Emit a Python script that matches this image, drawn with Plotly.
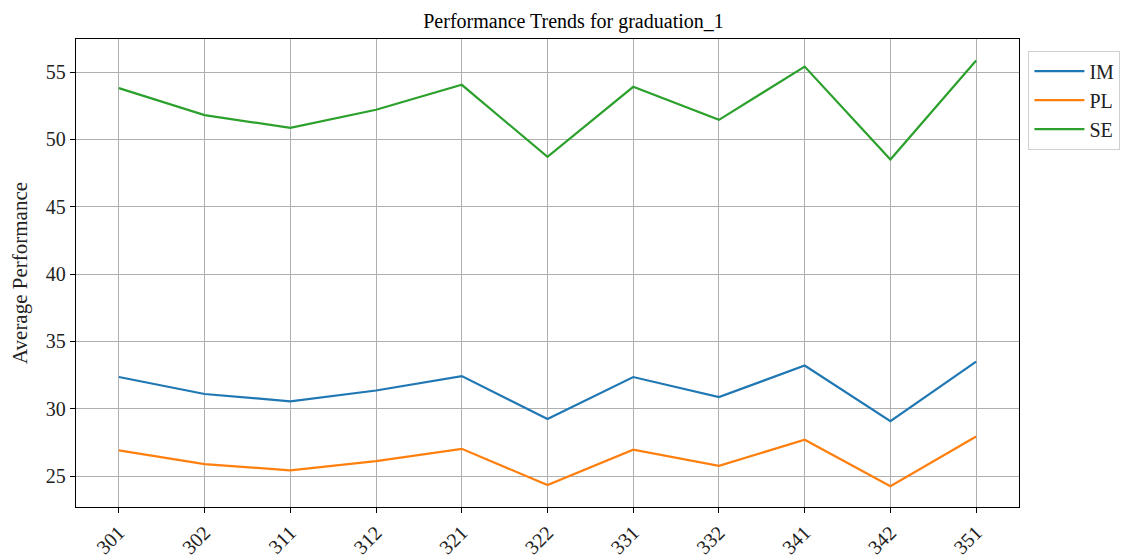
import plotly.graph_objects as go

# categorias do eixo x
grupos = ['301', '302', '311', '312', '321', '322', '331', '332', '341', '342', '351']

# medias por disciplina
im = [32.35, 31.09, 30.55, 31.35, 32.42, 29.23, 32.35, 30.86, 33.2, 29.08, 33.5]
pl = [26.9, 25.89, 25.42, 26.1, 27.02, 24.33, 26.95, 25.75, 27.7, 24.25, 27.93]
se = [53.8, 51.8, 50.85, 52.2, 54.05, 48.7, 53.9, 51.45, 55.4, 48.5, 55.85]

cores = ['#1f77b4', '#ff7f0e', '#2ca02c']
fonte = 'Liberation Serif'

fig = go.Figure()
for nome, vals, cor in zip(['IM', 'PL', 'SE'], [im, pl, se], cores):
    fig.add_trace(go.Scatter(x=grupos, y=vals, mode='lines', name=nome,
                             line=dict(color=cor, width=2.2)))

eixo = dict(showline=True, linecolor='black', linewidth=1.3, mirror=True,
            showgrid=True, gridcolor='#b0b0b0', gridwidth=1,
            ticks='outside', ticklen=5, tickcolor='black',
            tickfont=dict(family=fonte, size=20, color='#222'), zeroline=False)

fig.update_xaxes(type='category', range=[-0.5, 10.5], tickangle=-45, **eixo)
fig.update_yaxes(range=[22.7, 57.45], tickvals=[25, 30, 35, 40, 45, 50, 55],
                 title=dict(text='Average Performance', font=dict(family=fonte, size=21, color='#222'),
                            standoff=12), **eixo)

# o corpo da pagina tem 8px de margem, por isso os ajustes
fig.update_layout(
    width=1131, height=558,
    plot_bgcolor='white', paper_bgcolor='white',
    margin=dict(l=68, r=120, t=31, b=59, autoexpand=False),
    title=dict(text='Performance Trends for graduation_1', x=0.5, xanchor='center',
               y=0.977, yanchor='middle', font=dict(family=fonte, size=20, color='black')),
    legend=dict(x=1.01, y=0.975, xanchor='left', yanchor='top', itemwidth=50,
                bordercolor='#d0d0d0', borderwidth=1, bgcolor='white',
                font=dict(family=fonte, size=20, color='#222')),
)

fig.write_html('out.html')
